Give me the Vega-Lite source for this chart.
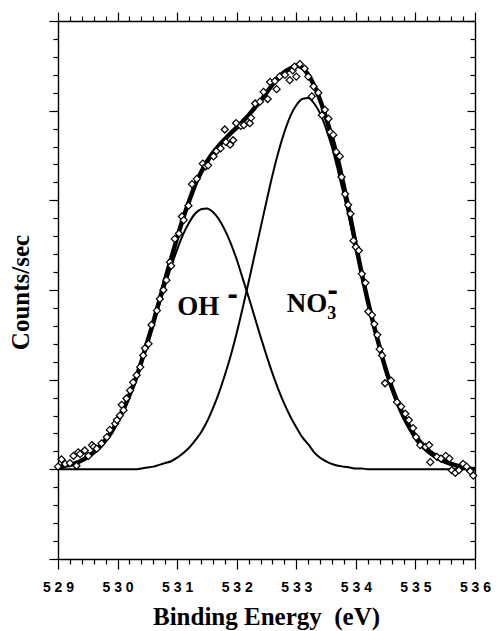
{
  "$schema": "https://vega.github.io/schema/vega-lite/v6.json",
  "autosize": {"type": "none"},
  "padding": {"left": 58, "top": 21, "right": 21, "bottom": 72},
  "width": 417,
  "height": 538,
  "background": "white",
  "config": {
    "view": {"stroke": null},
    "axis": {
      "grid": false,
      "domainColor": "black",
      "domainWidth": 1.4,
      "tickColor": "black",
      "tickWidth": 1.2,
      "labelColor": "black",
      "labelFont": "Liberation Sans",
      "labelFontWeight": "bold",
      "labelFontSize": 14,
      "titleColor": "black",
      "titleFont": "Liberation Serif",
      "titleFontWeight": "bold"
    }
  },
  "datasets": {
    "curves": [
      {"E": 529.0, "oh": 0.02, "no3": 0.00, "fit": 0.02},
      {"E": 529.1, "oh": 0.04, "no3": 0.00, "fit": 0.04},
      {"E": 529.2, "oh": 0.05, "no3": 0.00, "fit": 0.05},
      {"E": 529.3, "oh": 0.07, "no3": 0.00, "fit": 0.07},
      {"E": 529.4, "oh": 0.10, "no3": 0.00, "fit": 0.10},
      {"E": 529.5, "oh": 0.14, "no3": 0.00, "fit": 0.14},
      {"E": 529.6, "oh": 0.19, "no3": 0.00, "fit": 0.19},
      {"E": 529.7, "oh": 0.25, "no3": 0.00, "fit": 0.25},
      {"E": 529.8, "oh": 0.33, "no3": 0.00, "fit": 0.33},
      {"E": 529.9, "oh": 0.42, "no3": 0.00, "fit": 0.42},
      {"E": 530.0, "oh": 0.54, "no3": 0.00, "fit": 0.54},
      {"E": 530.1, "oh": 0.67, "no3": 0.00, "fit": 0.67},
      {"E": 530.2, "oh": 0.83, "no3": 0.00, "fit": 0.83},
      {"E": 530.3, "oh": 1.00, "no3": 0.00, "fit": 1.00},
      {"E": 530.4, "oh": 1.19, "no3": 0.01, "fit": 1.20},
      {"E": 530.5, "oh": 1.40, "no3": 0.02, "fit": 1.42},
      {"E": 530.6, "oh": 1.61, "no3": 0.03, "fit": 1.64},
      {"E": 530.7, "oh": 1.83, "no3": 0.05, "fit": 1.88},
      {"E": 530.8, "oh": 2.05, "no3": 0.07, "fit": 2.12},
      {"E": 530.9, "oh": 2.26, "no3": 0.09, "fit": 2.35},
      {"E": 531.0, "oh": 2.45, "no3": 0.13, "fit": 2.58},
      {"E": 531.1, "oh": 2.62, "no3": 0.18, "fit": 2.80},
      {"E": 531.2, "oh": 2.75, "no3": 0.24, "fit": 2.99},
      {"E": 531.3, "oh": 2.85, "no3": 0.32, "fit": 3.17},
      {"E": 531.4, "oh": 2.90, "no3": 0.41, "fit": 3.31},
      {"E": 531.5, "oh": 2.91, "no3": 0.53, "fit": 3.43},
      {"E": 531.6, "oh": 2.87, "no3": 0.68, "fit": 3.53},
      {"E": 531.7, "oh": 2.79, "no3": 0.85, "fit": 3.61},
      {"E": 531.8, "oh": 2.67, "no3": 1.05, "fit": 3.68},
      {"E": 531.9, "oh": 2.52, "no3": 1.27, "fit": 3.75},
      {"E": 532.0, "oh": 2.34, "no3": 1.52, "fit": 3.81},
      {"E": 532.1, "oh": 2.13, "no3": 1.80, "fit": 3.88},
      {"E": 532.2, "oh": 1.92, "no3": 2.09, "fit": 3.95},
      {"E": 532.3, "oh": 1.70, "no3": 2.39, "fit": 4.03},
      {"E": 532.4, "oh": 1.48, "no3": 2.69, "fit": 4.11},
      {"E": 532.5, "oh": 1.27, "no3": 2.99, "fit": 4.20},
      {"E": 532.6, "oh": 1.07, "no3": 3.28, "fit": 4.29},
      {"E": 532.7, "oh": 0.89, "no3": 3.54, "fit": 4.37},
      {"E": 532.8, "oh": 0.73, "no3": 3.76, "fit": 4.43},
      {"E": 532.9, "oh": 0.59, "no3": 3.94, "fit": 4.47},
      {"E": 533.0, "oh": 0.47, "no3": 4.06, "fit": 4.50},
      {"E": 533.1, "oh": 0.36, "no3": 4.13, "fit": 4.48},
      {"E": 533.2, "oh": 0.28, "no3": 4.14, "fit": 4.40},
      {"E": 533.3, "oh": 0.19, "no3": 4.08, "fit": 4.28},
      {"E": 533.4, "oh": 0.13, "no3": 3.97, "fit": 4.12},
      {"E": 533.5, "oh": 0.09, "no3": 3.80, "fit": 3.92},
      {"E": 533.6, "oh": 0.06, "no3": 3.59, "fit": 3.70},
      {"E": 533.7, "oh": 0.04, "no3": 3.33, "fit": 3.45},
      {"E": 533.8, "oh": 0.03, "no3": 3.05, "fit": 3.15},
      {"E": 533.9, "oh": 0.02, "no3": 2.76, "fit": 2.84},
      {"E": 534.0, "oh": 0.01, "no3": 2.45, "fit": 2.50},
      {"E": 534.1, "oh": 0.01, "no3": 2.15, "fit": 2.18},
      {"E": 534.2, "oh": 0.00, "no3": 1.85, "fit": 1.88},
      {"E": 534.3, "oh": 0.00, "no3": 1.58, "fit": 1.61},
      {"E": 534.4, "oh": 0.00, "no3": 1.32, "fit": 1.36},
      {"E": 534.5, "oh": 0.00, "no3": 1.09, "fit": 1.12},
      {"E": 534.6, "oh": 0.00, "no3": 0.89, "fit": 0.92},
      {"E": 534.7, "oh": 0.00, "no3": 0.71, "fit": 0.75},
      {"E": 534.8, "oh": 0.00, "no3": 0.56, "fit": 0.60},
      {"E": 534.9, "oh": 0.00, "no3": 0.44, "fit": 0.48},
      {"E": 535.0, "oh": 0.00, "no3": 0.33, "fit": 0.37},
      {"E": 535.1, "oh": 0.00, "no3": 0.25, "fit": 0.29},
      {"E": 535.2, "oh": 0.00, "no3": 0.19, "fit": 0.22},
      {"E": 535.3, "oh": 0.00, "no3": 0.14, "fit": 0.17},
      {"E": 535.4, "oh": 0.00, "no3": 0.10, "fit": 0.13},
      {"E": 535.5, "oh": 0.00, "no3": 0.07, "fit": 0.09},
      {"E": 535.6, "oh": 0.00, "no3": 0.05, "fit": 0.06},
      {"E": 535.7, "oh": 0.00, "no3": 0.03, "fit": 0.04},
      {"E": 535.8, "oh": 0.00, "no3": 0.02, "fit": 0.02},
      {"E": 535.9, "oh": 0.00, "no3": 0.01, "fit": 0.01},
      {"E": 536.0, "oh": 0.00, "no3": 0.01, "fit": 0.00}
    ],
    "measured": [
      {"E": 529.00, "I": 0.03}, {"E": 529.06, "I": 0.11}, {"E": 529.12, "I": 0.06},
      {"E": 529.20, "I": 0.07}, {"E": 529.26, "I": 0.15}, {"E": 529.31, "I": 0.04},
      {"E": 529.34, "I": 0.19}, {"E": 529.37, "I": 0.17}, {"E": 529.45, "I": 0.21},
      {"E": 529.51, "I": 0.15}, {"E": 529.57, "I": 0.27}, {"E": 529.60, "I": 0.25},
      {"E": 529.65, "I": 0.23}, {"E": 529.73, "I": 0.29}, {"E": 529.82, "I": 0.36},
      {"E": 529.87, "I": 0.44}, {"E": 529.96, "I": 0.51}, {"E": 529.99, "I": 0.55},
      {"E": 530.04, "I": 0.60}, {"E": 530.07, "I": 0.72}, {"E": 530.10, "I": 0.66},
      {"E": 530.15, "I": 0.79}, {"E": 530.21, "I": 0.88}, {"E": 530.26, "I": 0.97},
      {"E": 530.32, "I": 1.05}, {"E": 530.38, "I": 1.14}, {"E": 530.43, "I": 1.27},
      {"E": 530.46, "I": 1.35}, {"E": 530.52, "I": 1.40}, {"E": 530.57, "I": 1.61},
      {"E": 530.66, "I": 1.77}, {"E": 530.71, "I": 1.90}, {"E": 530.77, "I": 2.00},
      {"E": 530.82, "I": 2.11}, {"E": 530.88, "I": 2.31}, {"E": 530.90, "I": 2.27},
      {"E": 530.96, "I": 2.57}, {"E": 531.03, "I": 2.63}, {"E": 531.08, "I": 2.82},
      {"E": 531.11, "I": 2.78}, {"E": 531.19, "I": 2.94}, {"E": 531.25, "I": 3.18},
      {"E": 531.33, "I": 3.24}, {"E": 531.43, "I": 3.41}, {"E": 531.48, "I": 3.38},
      {"E": 531.52, "I": 3.39}, {"E": 531.61, "I": 3.49}, {"E": 531.66, "I": 3.55},
      {"E": 531.73, "I": 3.58}, {"E": 531.80, "I": 3.79}, {"E": 531.82, "I": 3.65},
      {"E": 531.89, "I": 3.62}, {"E": 531.94, "I": 3.67}, {"E": 531.99, "I": 3.86},
      {"E": 532.07, "I": 3.83}, {"E": 532.12, "I": 3.84}, {"E": 532.22, "I": 3.86},
      {"E": 532.24, "I": 3.92}, {"E": 532.31, "I": 4.08}, {"E": 532.39, "I": 4.10},
      {"E": 532.45, "I": 4.21}, {"E": 532.52, "I": 4.13}, {"E": 532.56, "I": 4.32},
      {"E": 532.64, "I": 4.33}, {"E": 532.67, "I": 4.24}, {"E": 532.72, "I": 4.38},
      {"E": 532.81, "I": 4.40}, {"E": 532.89, "I": 4.34}, {"E": 532.94, "I": 4.45},
      {"E": 532.97, "I": 4.49}, {"E": 533.00, "I": 4.38}, {"E": 533.06, "I": 4.52},
      {"E": 533.14, "I": 4.47}, {"E": 533.20, "I": 4.38}, {"E": 533.26, "I": 4.16},
      {"E": 533.29, "I": 4.27}, {"E": 533.37, "I": 4.20}, {"E": 533.43, "I": 3.95},
      {"E": 533.48, "I": 4.01}, {"E": 533.54, "I": 3.91}, {"E": 533.57, "I": 3.76},
      {"E": 533.62, "I": 3.73}, {"E": 533.67, "I": 3.54}, {"E": 533.73, "I": 3.49},
      {"E": 533.76, "I": 3.26}, {"E": 533.82, "I": 3.07}, {"E": 533.87, "I": 2.95},
      {"E": 533.91, "I": 2.85}, {"E": 533.96, "I": 2.55}, {"E": 534.00, "I": 2.48},
      {"E": 534.05, "I": 2.44}, {"E": 534.10, "I": 2.18}, {"E": 534.16, "I": 2.08},
      {"E": 534.21, "I": 1.76}, {"E": 534.27, "I": 1.72}, {"E": 534.31, "I": 1.62},
      {"E": 534.36, "I": 1.50}, {"E": 534.40, "I": 1.34}, {"E": 534.44, "I": 1.27},
      {"E": 534.49, "I": 0.96}, {"E": 534.59, "I": 0.99}, {"E": 534.69, "I": 0.75},
      {"E": 534.76, "I": 0.70}, {"E": 534.83, "I": 0.62}, {"E": 534.89, "I": 0.55},
      {"E": 534.96, "I": 0.46}, {"E": 535.01, "I": 0.36}, {"E": 535.08, "I": 0.27},
      {"E": 535.17, "I": 0.25}, {"E": 535.23, "I": 0.27}, {"E": 535.25, "I": 0.08},
      {"E": 535.36, "I": 0.14}, {"E": 535.43, "I": 0.12}, {"E": 535.51, "I": 0.15},
      {"E": 535.57, "I": 0.12}, {"E": 535.61, "I": -0.01}, {"E": 535.67, "I": -0.04},
      {"E": 535.73, "I": -0.01}, {"E": 535.80, "I": 0.06}, {"E": 535.86, "I": 0.03},
      {"E": 535.92, "I": -0.02}, {"E": 535.97, "I": -0.07}
    ],
    "names": [
      {"t": "OH", "E": 531.0, "I": 1.72},
      {"t": "NO", "E": 532.84, "I": 1.75}
    ],
    "subscripts": [
      {"t": "3", "E": 533.52, "I": 1.68}
    ],
    "charges": [
      {"t": "-", "E": 531.93, "I": 1.94},
      {"t": "-", "E": 533.61, "I": 1.99}
    ]
  },
  "layer": [
    {
      "data": {"name": "curves"},
      "mark": {"type": "line", "color": "black", "strokeWidth": 2, "interpolate": "monotone"},
      "encoding": {
        "x": {
          "field": "E", "type": "quantitative",
          "scale": {"domain": [529, 536], "nice": false, "zero": false},
          "axis": {
            "orient": "bottom",
            "values": [529, 530, 531, 532, 533, 534, 535, 536],
            "tickSize": 10,
            "labelPadding": 11,
            "labelFont": "Liberation Sans",
            "labelFontWeight": "bold",
            "labelFontSize": 14,
            "labelFlush": false,
            "labelOverlap": false,
            "labelExpr": "join(split(datum.label, ''), ' ')",
            "title": "Binding Energy \u00a0(eV)",
            "titleFont": "Liberation Serif",
            "titleFontWeight": "bold",
            "titleFontSize": 25,
            "titleX": 208,
            "titleY": 65,
            "titleBaseline": "alphabetic",
            "titleAlign": "center"
          }
        },
        "y": {
          "field": "oh", "type": "quantitative",
          "scale": {"domain": [-1, 5], "nice": false, "zero": false},
          "axis": {
            "orient": "left",
            "values": [-1, 0, 1, 2, 3, 4, 5],
            "tickSize": 9,
            "labels": false,
            "title": "Counts/sec",
            "titleFont": "Liberation Serif",
            "titleFontWeight": "bold",
            "titleFontSize": 25,
            "titleAngle": 270,
            "titleX": -30,
            "titleY": 271,
            "titleBaseline": "alphabetic",
            "titleAlign": "center"
          }
        }
      }
    },
    {
      "data": {"name": "curves"},
      "mark": {"type": "line", "color": "black", "strokeWidth": 2, "interpolate": "monotone"},
      "encoding": {
        "x": {
          "field": "E", "type": "quantitative",
          "scale": {"domain": [529, 536], "nice": false, "zero": false},
          "axis": {
            "orient": "bottom",
            "domain": false,
            "labels": false,
            "title": null,
            "tickSize": 5,
            "values": [529.2, 529.4, 529.6, 529.8, 530.2, 530.4, 530.6, 530.8, 531.2, 531.4, 531.6, 531.8, 532.2, 532.4, 532.6, 532.8, 533.2, 533.4, 533.6, 533.8, 534.2, 534.4, 534.6, 534.8, 535.2, 535.4, 535.6, 535.8]
          }
        },
        "y": {
          "field": "no3", "type": "quantitative",
          "scale": {"domain": [-1, 5], "nice": false, "zero": false},
          "axis": {
            "orient": "left",
            "domain": false,
            "labels": false,
            "title": null,
            "tickSize": 5,
            "values": [-0.8, -0.6, -0.4, -0.2, 0.2, 0.4, 0.6, 0.8, 1.2, 1.4, 1.6, 1.8, 2.2, 2.4, 2.6, 2.8, 3.2, 3.4, 3.6, 3.8, 4.2, 4.4, 4.6, 4.8]
          }
        }
      }
    },
    {
      "data": {"name": "curves"},
      "mark": {"type": "line", "color": "black", "strokeWidth": 4.5, "interpolate": "monotone"},
      "encoding": {
        "x": {
          "field": "E", "type": "quantitative",
          "scale": {"domain": [529, 536], "nice": false, "zero": false},
          "axis": {
            "orient": "top",
            "labels": false,
            "title": null,
            "tickSize": 9,
            "values": [529, 530, 531, 532, 533, 534, 535, 536]
          }
        },
        "y": {
          "field": "fit", "type": "quantitative",
          "scale": {"domain": [-1, 5], "nice": false, "zero": false},
          "axis": {
            "orient": "right",
            "labels": false,
            "title": null,
            "tickSize": -8,
            "values": [-1, 0, 1, 2, 3, 4, 5]
          }
        }
      }
    },
    {
      "data": {"name": "measured"},
      "mark": {"type": "point", "shape": "diamond", "filled": true, "fill": "white", "stroke": "black", "strokeWidth": 1.2, "size": 50, "opacity": 1},
      "encoding": {
        "x": {
          "field": "E", "type": "quantitative",
          "scale": {"domain": [529, 536], "nice": false, "zero": false},
          "axis": {
            "orient": "top",
            "domain": false,
            "labels": false,
            "title": null,
            "tickSize": 5,
            "values": [529.2, 529.4, 529.6, 529.8, 530.2, 530.4, 530.6, 530.8, 531.2, 531.4, 531.6, 531.8, 532.2, 532.4, 532.6, 532.8, 533.2, 533.4, 533.6, 533.8, 534.2, 534.4, 534.6, 534.8, 535.2, 535.4, 535.6, 535.8]
          }
        },
        "y": {
          "field": "I", "type": "quantitative",
          "scale": {"domain": [-1, 5], "nice": false, "zero": false},
          "axis": {
            "orient": "right",
            "domain": false,
            "labels": false,
            "title": null,
            "tickSize": -5,
            "values": [-0.8, -0.6, -0.4, -0.2, 0.2, 0.4, 0.6, 0.8, 1.2, 1.4, 1.6, 1.8, 2.2, 2.4, 2.6, 2.8, 3.2, 3.4, 3.6, 3.8, 4.2, 4.4, 4.6, 4.8]
          }
        }
      }
    },
    {
      "data": {"name": "names"},
      "mark": {"type": "text", "font": "Liberation Serif", "fontWeight": "bold", "fontSize": 27, "align": "left", "baseline": "alphabetic", "color": "black"},
      "encoding": {
        "x": {"field": "E", "type": "quantitative", "axis": null},
        "y": {"field": "I", "type": "quantitative", "axis": null},
        "text": {"field": "t"}
      }
    },
    {
      "data": {"name": "subscripts"},
      "mark": {"type": "text", "font": "Liberation Serif", "fontWeight": "bold", "fontSize": 18, "align": "left", "baseline": "alphabetic", "color": "black"},
      "encoding": {
        "x": {"field": "E", "type": "quantitative", "axis": null},
        "y": {"field": "I", "type": "quantitative", "axis": null},
        "text": {"field": "t"}
      }
    },
    {
      "data": {"name": "charges"},
      "mark": {"type": "text", "font": "DejaVu Serif", "fontWeight": "bold", "fontSize": 26, "align": "center", "baseline": "middle", "color": "black"},
      "encoding": {
        "x": {"field": "E", "type": "quantitative", "axis": null},
        "y": {"field": "I", "type": "quantitative", "axis": null},
        "text": {"field": "t"}
      }
    }
  ],
  "resolve": {"axis": {"x": "independent", "y": "independent"}}
}
